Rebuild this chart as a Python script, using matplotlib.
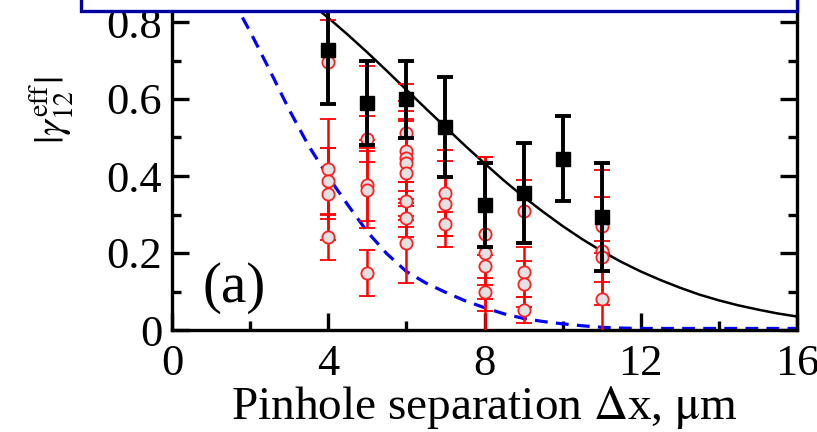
import numpy as np
import matplotlib
matplotlib.use('Agg')
from matplotlib import pyplot as plt
from matplotlib.patches import Rectangle
from matplotlib.ticker import MultipleLocator, FixedLocator, FuncFormatter

plt.rcParams['font.family'] = 'serif'
plt.rcParams['font.serif'] = ['Liberation Serif', 'DejaVu Serif']
plt.rcParams['mathtext.fontset'] = 'stix'

# measured coherence, averaged (black squares)
avg_x = [4, 5, 6, 7, 8, 9, 10, 11]
avg_y = [0.727, 0.59, 0.60, 0.527, 0.325, 0.356, 0.445, 0.294]
avg_err = [0.14, 0.11, 0.10, 0.13, 0.109, 0.129, 0.11, 0.14]

# single-shot values (red circles)
shot_x = [4, 4, 4, 4, 4,
          5, 5, 5, 5, 5,
          6, 6, 6, 6, 6, 6, 6, 6,
          7, 7, 7,
          8, 8, 8, 8,
          9, 9, 9, 9,
          11, 11, 11, 11]
shot_y = [0.696, 0.418, 0.387, 0.353, 0.242,
          0.59, 0.496, 0.377, 0.364, 0.148,
          0.512, 0.465, 0.446, 0.433, 0.408, 0.335, 0.291, 0.226,
          0.356, 0.327, 0.275,
          0.249, 0.20, 0.166, 0.099,
          0.309, 0.151, 0.12, 0.052,
          0.27, 0.205, 0.19, 0.081]
shot_err = [0.11, 0.13, 0.087, 0.12, 0.06,
            0.097, 0.06, 0.095, 0.10, 0.06,
            0.128, 0.105, 0.15, 0.11, 0.14, 0.05, 0.05, 0.104,
            0.112, 0.112, 0.031,
            0.2, 0.25, 0.03, 0.018,
            0.08, 0.065, 0.06, 0.034,
            0.145, 0.14, 0.04, 0.12]

# model curves
fit_x = [0, 0.5, 1, 1.5, 2, 2.5, 3, 3.5, 4, 4.5, 5, 5.5, 6, 6.5, 7, 7.5, 8,
         8.5, 9, 9.5, 10, 10.5, 11, 11.5, 12, 12.5, 13, 13.5, 14, 14.5, 15, 15.5, 16]
fit_black = [1.0, 0.997, 0.987, 0.971, 0.949, 0.921, 0.889, 0.852, 0.811, 0.767,
             0.721, 0.673, 0.624, 0.575, 0.527, 0.479, 0.433, 0.388, 0.346, 0.307,
             0.270, 0.236, 0.205, 0.177, 0.152, 0.130, 0.110, 0.092, 0.077, 0.064,
             0.053, 0.043, 0.035]
fit_blue = [1.0, 0.985, 0.95, 0.868, 0.775, 0.675, 0.572, 0.478, 0.398, 0.325,
            0.255, 0.198, 0.152, 0.122, 0.098, 0.076, 0.058, 0.042, 0.030, 0.022,
            0.016, 0.011, 0.007, 0.005, 0.004, 0.004, 0.004, 0.004, 0.004, 0.004,
            0.004, 0.004, 0.004]

y_ticks = [0, 0.2, 0.4, 0.6, 0.8]

W, H = 817, 432
fig = plt.figure(figsize=(W / 100, H / 100), dpi=100)
ax = fig.add_axes([172 / W, (H - 330) / H, 625 / W, 385 / H])

ax.plot(fit_x, fit_blue, color='#0000ff', lw=2.3, ls=(0, (4, 2.6)), zorder=2)
ax.plot(fit_x, fit_black, color='black', lw=1.8, zorder=2)

ax.errorbar(shot_x, shot_y, yerr=shot_err, fmt='o', ms=8.8, mfc='#e2e2e2', mec='#ff2020',
            mew=1.3, ecolor='red', elinewidth=1.8, capsize=5.8, capthick=1.8, zorder=3)
ax.errorbar(avg_x, avg_y, yerr=avg_err, fmt='s', ms=10.5, color='black',
            elinewidth=2.8, capsize=6, capthick=2.8, zorder=4)

ax.set_xlim(0, 16)
ax.set_ylim(0, 1.0)
ax.xaxis.set_major_locator(MultipleLocator(4))
ax.xaxis.set_minor_locator(MultipleLocator(2))
ax.yaxis.set_major_locator(FixedLocator(y_ticks))
ax.yaxis.set_minor_locator(MultipleLocator(0.1))
fmt = FuncFormatter(lambda v, p: '%g' % round(v, 3))
ax.xaxis.set_major_formatter(fmt)
ax.yaxis.set_major_formatter(fmt)
ax.tick_params(which='both', direction='in', left=True, right=True, bottom=True, top=False,
               width=2.4, labelsize=32)
ax.tick_params(which='major', length=12)
ax.tick_params(axis='x', which='major', pad=10)
ax.tick_params(axis='y', which='major', pad=7)
ax.tick_params(which='minor', length=6.5)
for s in ax.spines.values():
    s.set_linewidth(2.4)

ax.set_xlabel(r'Pinhole separation $\Delta$x, $\mathrm{\mu}$m', fontsize=34, labelpad=0)
fig.text(52 / W, 1 - 110 / H, r'$|\gamma_{12}^{\mathrm{eff}}|$', rotation=90,
         ha='center', va='center', fontsize=29)
ax.text(1.6, 0.11, '(a)', ha='center', va='center', fontsize=41)

# panel title frame along the top edge
fig.patches.append(Rectangle((81 / W, 1 - 11 / H), (797 - 81) / W, 0.2,
                             transform=fig.transFigure, facecolor='white',
                             edgecolor='#0000a0', lw=2.4, zorder=10))

fig.savefig('out.png', dpi=100)
